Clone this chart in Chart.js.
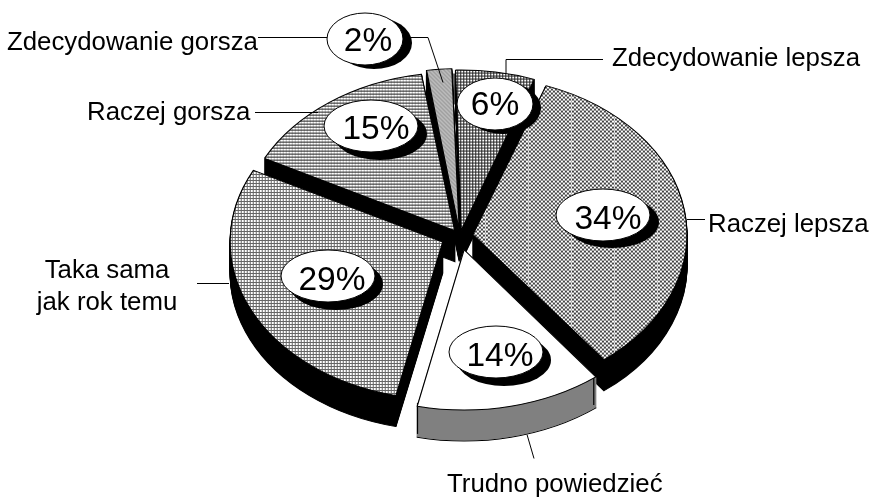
<!DOCTYPE html>
<html><head><meta charset="utf-8">
<style>html,body{margin:0;padding:0;background:#fff}canvas{display:block}</style>
<script src="https://cdn.jsdelivr.net/npm/chart.js@4"></script>
</head><body><canvas id="c" width="872" height="500"></canvas>
<script>
const categories = ['Zdecydowanie lepsza','Raczej lepsza','Trudno powiedzieć','Taka sama jak rok temu','Raczej gorsza','Zdecydowanie gorsza'];
const values = [6,34,14,29,15,2];
const explode = [30,52,76,76,36,30];
const wallColors = ['#000','#000','#808080','#000','#000','#000'];
const drawOrder = [5,0,4,1,3,2];
const FONT = '"Liberation Sans", Arial, sans-serif';

function tile(w,h,paint){
  const c=document.createElement('canvas');c.width=w;c.height=h;
  const x=c.getContext('2d');x.fillStyle='#fff';x.fillRect(0,0,w,h);paint(x);
  return document.createElement('canvas').getContext('2d').createPattern(c,'repeat');
}
const patterns = [
  tile(3,3,x=>{x.fillStyle='#222';x.fillRect(0,0,3,1);x.fillRect(0,0,1,3);}),
  tile(43,4,x=>{x.fillStyle='#444';for(let i=0;i<43;i+=4){x.fillRect(i,0,2,2);x.fillRect(i+2,2,2,2);}x.fillStyle='rgba(255,255,255,.5)';x.fillRect(42,0,1,4);}),
  tile(2,2,x=>{}),
  tile(3,3,x=>{x.fillStyle='#666';x.fillRect(0,0,3,1);x.fillRect(0,0,1,3);}),
  tile(3,3,x=>{x.fillStyle='#bbb';x.fillRect(0,0,1,3);x.fillStyle='#222';x.fillRect(0,0,3,1);}),
  tile(4,4,x=>{x.fillStyle='#777';for(let i=0;i<4;i++){x.fillRect(i,i,1,1);x.fillRect((i+2)%4,i,1,1);}x.fillStyle='#ccc';for(let i=0;i<4;i++){x.fillRect((i+1)%4,i,1,1);}})
];

const pieCenter = {x:460,y:236}, pieRadiusX = 212, pieRadiusY = 157, depth = 31;

const bubbles = [
  {cx:495,cy:104,rx:38,ry:26,sx:8,sy:4,tx:0,ty:1},
  {cx:603,cy:215,rx:47,ry:26,sx:9,sy:7,tx:5,ty:4},
  {cx:496,cy:352,rx:47,ry:26,sx:8,sy:8,tx:4,ty:4},
  {cx:328,cy:276,rx:47,ry:26,sx:8,sy:8,tx:4,ty:4},
  {cx:371,cy:126,rx:47,ry:26,sx:9,sy:8,tx:5,ty:3},
  {cx:365,cy:39,rx:38,ry:26,sx:9,sy:4,tx:3,ty:2}
];
const leaders = [
  [[603,59],[506,59],[506,73]],
  [[687,219],[705,219]],
  [[527,434],[534,458]],
  [[197,283],[229,283]],
  [[255,112],[318,112]],
  [[258,37],[327,37]],
  [[403,37],[428,37],[443,82]]
];
const labelLines = [
  {t:['Zdecydowanie lepsza'],x:612,y:59,a:'left'},
  {t:['Raczej lepsza'],x:708,y:225,a:'left'},
  {t:['Trudno powiedzieć'],x:447,y:485,a:'left'},
  {t:['Taka sama','jak rok temu'],x:107,y:271,a:'center'},
  {t:['Raczej gorsza'],x:87,y:113,a:'left'},
  {t:['Zdecydowanie gorsza'],x:7,y:43,a:'left'}
];

const pie3d = {
  id:'pie3d',
  beforeDatasetDraw(chart){
    const ctx=chart.ctx, arcs=chart.getDatasetMeta(0).data;
    const R=arcs[0].outerRadius, cx=arcs[0].x, cy=arcs[0].y;
    const sx=pieRadiusX/R, sy=pieRadiusY/R;
    const fix=new DOMMatrix().translate(cx,cy).scale(1/sx,1/sy).translate(-pieCenter.x,-pieCenter.y);
    patterns.forEach(p=>p.setTransform(fix));
    const enter=(dy)=>{ctx.save();ctx.translate(pieCenter.x,pieCenter.y+dy);ctx.scale(sx,sy);ctx.translate(-cx,-cy);};
    drawOrder.forEach(i=>{
      const a=arcs[i], o=a.options, wall=wallColors[i];
      const mid=(a.startAngle+a.endAngle)/2, off=(o.offset||0)/4;
      const ox=pieCenter.x+Math.cos(mid)*off*sx, oy=pieCenter.y+Math.sin(mid)*off*sy;
      a.options=Object.assign({},o,{backgroundColor:wall,borderColor:'#000'});
      enter(depth);a.draw(ctx);ctx.restore();
      a.options=Object.assign({},o,{backgroundColor:wall,borderColor:wall});
      for(let d=depth-1;d>0;d--){enter(d);a.draw(ctx);ctx.restore();}
      a.options=o;
      ctx.save();ctx.strokeStyle='#000';ctx.lineWidth=1.2;
      [a.startAngle,a.endAngle].forEach(t=>{
        const px=ox+Math.cos(t)*R*sx, py=oy+Math.sin(t)*R*sy;
        ctx.beginPath();ctx.moveTo(px,py);ctx.lineTo(px,py+depth);ctx.stroke();
      });
      ctx.restore();
      enter(0);a.draw(ctx);ctx.restore();
    });
    return false;
  },
  afterDatasetsDraw(chart){
    const ctx=chart.ctx;
    ctx.save();
    ctx.strokeStyle='#000';ctx.lineWidth=1;
    leaders.forEach(l=>{ctx.beginPath();l.forEach((p,i)=>i?ctx.lineTo(p[0],p[1]+.5):ctx.moveTo(p[0],p[1]+.5));ctx.stroke();});
    bubbles.forEach((b,i)=>{
      ctx.fillStyle='#000';ctx.beginPath();ctx.ellipse(b.cx+b.sx,b.cy+b.sy,b.rx,b.ry,0,0,7);ctx.fill();
      ctx.fillStyle='#fff';ctx.beginPath();ctx.ellipse(b.cx,b.cy,b.rx,b.ry,0,0,7);ctx.fill();ctx.stroke();
      ctx.fillStyle='#000';ctx.font='33.5px '+FONT;ctx.textAlign='center';ctx.textBaseline='middle';
      ctx.fillText(values[i]+'%',b.cx+b.tx,b.cy+1+b.ty);
    });
    ctx.font='25.8px '+FONT;ctx.textBaseline='middle';
    labelLines.forEach(l=>{ctx.textAlign=l.a;l.t.forEach((t,j)=>ctx.fillText(t,l.x,l.y+j*32));});
    ctx.restore();
  }
};

new Chart(document.getElementById('c'),{
  type:'pie',
  data:{labels:categories,datasets:[{data:values,backgroundColor:patterns,offset:explode,borderColor:'#000',borderWidth:1.2,borderJoinStyle:'miter'}]},
  options:{responsive:false,animation:false,rotation:-1.7,layout:{padding:0},plugins:{legend:{display:false},tooltip:{enabled:false}}},
  plugins:[pie3d]
});
</script></body></html>
